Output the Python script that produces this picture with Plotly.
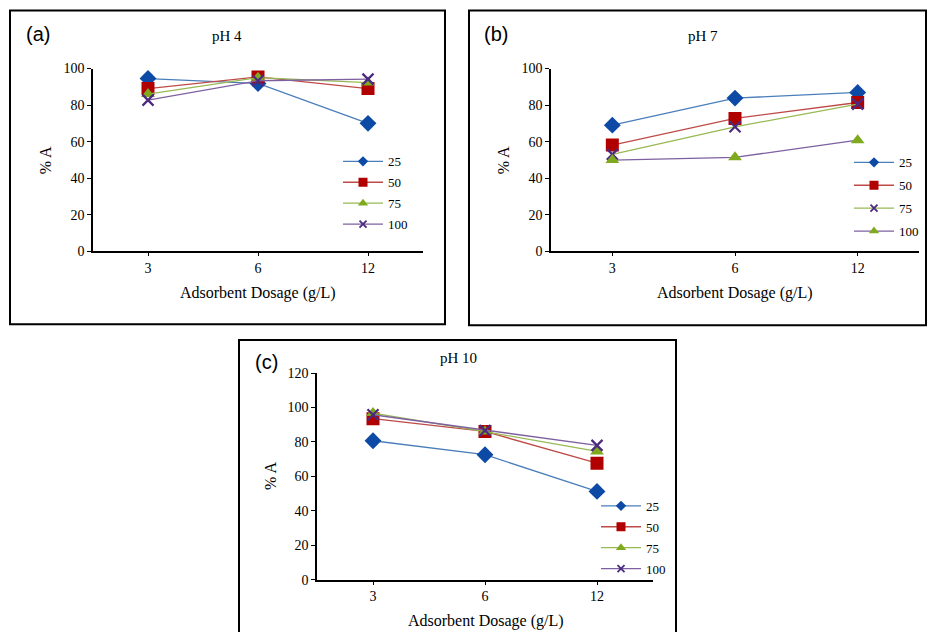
import plotly.graph_objects as go

W, H = 928, 640

dosage = ["3", "6", "12"]
series_names = ["25", "50", "75", "100"]

ph4_25 = [94.5, 91.8, 70.0]
ph4_50 = [89.0, 95.4, 89.0]
ph4_75 = [86.0, 95.0, 92.3]
ph4_100 = [82.7, 93.3, 94.2]

ph7_25 = [69.0, 83.8, 86.9]
ph7_50 = [58.1, 72.7, 81.4]
ph7_75 = [53.0, 68.1, 80.5]
ph7_100 = [49.9, 51.4, 60.8]

ph10_25 = [80.7, 72.6, 51.3]
ph10_50 = [93.5, 86.1, 67.7]
ph10_75 = [96.8, 86.0, 74.5]
ph10_100 = [95.8, 86.7, 78.0]

panel_titles = ["pH 4", "pH 7", "pH 10"]
panel_labels = ["(a)", "(b)", "(c)"]

LBLUE, LRED, LGREEN, LPURPLE = "#4A7EBB", "#BE4B48", "#98B954", "#7D60A0"
MBLUE, MRED, MGREEN, MPURPLE = "#0D4AA6", "#B00000", "#7FAA1E", "#4B2A80"

DIA = dict(symbol="diamond", color=MBLUE)
SQ = dict(symbol="square", color=MRED)
TRI = dict(symbol="triangle-up", color=MGREEN)
XX = dict(symbol="x-thin", color=MPURPLE)

# (line colour, marker style) per series per panel
styles_a = [(LBLUE, DIA), (LRED, SQ), (LGREEN, TRI), (LPURPLE, XX)]
styles_b = [(LBLUE, DIA), (LRED, SQ), (LGREEN, XX), (LPURPLE, TRI)]
styles_c = styles_a

SERIF = "Liberation Serif"

# the photographed page shows page-y as 6.4 + 0.978 * y; place layout so
# the final picture lands on the target pixel positions
Y_OFF, Y_SCALE = 6.4, 0.978

def px(x):
    return x / W

def py(y):
    return 1 - ((y - Y_OFF) / Y_SCALE) / H

fig = go.Figure()

panels = [
    dict(ax="", data=[ph4_25, ph4_50, ph4_75, ph4_100], styles=styles_a, legend="legend"),
    dict(ax="2", data=[ph7_25, ph7_50, ph7_75, ph7_100], styles=styles_b, legend="legend2"),
    dict(ax="3", data=[ph10_25, ph10_50, ph10_75, ph10_100], styles=styles_c, legend="legend3"),
]

big = {"diamond": 13, "square": 13, "triangle-up": 12, "x-thin": 11}
small = {"diamond": 8, "square": 9, "triangle-up": 9, "x-thin": 7}

for p in panels:
    for name, vals, (lc, mk) in zip(series_names, p["data"], p["styles"]):
        sym = mk["symbol"]
        mline = dict(width=2.2, color=mk["color"]) if sym == "x-thin" else dict(width=0)
        fig.add_trace(go.Scatter(
            x=dosage, y=vals, mode="lines+markers", name=name,
            line=dict(color=lc, width=1.3),
            marker=dict(symbol=sym, size=big[sym], color=mk["color"], line=mline),
            xaxis="x" + p["ax"], yaxis="y" + p["ax"], showlegend=False,
        ))
    for i, (name, (lc, mk)) in enumerate(zip(series_names, p["styles"])):
        sym = mk["symbol"]
        mline = dict(width=1.8, color=mk["color"]) if sym == "x-thin" else dict(width=0)
        fig.add_trace(go.Scatter(
            x=[None], y=[None], mode="lines+markers", name=name,
            line=dict(color=lc, width=1.3),
            marker=dict(symbol=sym, size=small[sym], color=mk["color"], line=mline),
            xaxis="x" + p["ax"], yaxis="y" + p["ax"], showlegend=True,
            legend=p["legend"], legendgroup=p["legend"] + name,
        ))

xaxis_common = dict(
    type="category", categoryorder="array", categoryarray=dosage,
    showline=True, linecolor="black", linewidth=1.5, ticks="outside",
    ticklen=3, tickcolor="black", showgrid=False, zeroline=False,
    tickfont=dict(family=SERIF, size=14, color="black"), range=[-0.5, 2.5],
    fixedrange=True,
)
yaxis_common = dict(
    showline=True, linecolor="black", linewidth=1.5, ticks="outside",
    ticklen=4, tickcolor="black", showgrid=False, zeroline=False, dtick=20,
    tickfont=dict(family=SERIF, size=14, color="black"), fixedrange=True,
)

fig.update_layout(
    width=W, height=H, margin=dict(l=0, r=0, t=0, b=0),
    paper_bgcolor="white", plot_bgcolor="white",
    xaxis=dict(xaxis_common, domain=[px(93), px(423)], anchor="y"),
    yaxis=dict(yaxis_common, domain=[py(251), py(68)], range=[0, 100], anchor="x"),
    xaxis2=dict(xaxis_common, domain=[px(551), px(919)], anchor="y2"),
    yaxis2=dict(yaxis_common, domain=[py(251), py(68)], range=[0, 100], anchor="x2"),
    xaxis3=dict(xaxis_common, domain=[px(317), px(653)], anchor="y3"),
    yaxis3=dict(yaxis_common, domain=[py(580), py(373)], range=[0, 120], anchor="x3"),
)

leg_common = dict(
    xanchor="left", yanchor="top", bgcolor="rgba(0,0,0,0)",
    font=dict(family=SERIF, size=13, color="black"), itemwidth=40,
    itemclick=False, itemdoubleclick=False,
)
fig.update_layout(
    legend=dict(leg_common, x=px(338), y=py(146), tracegroupgap=1),
    legend2=dict(leg_common, x=px(849), y=py(147), tracegroupgap=3),
    legend3=dict(leg_common, x=px(596), y=py(491), tracegroupgap=1),
)

# panel frames
FRAME = dict(color="black", width=2)
for (x0, y0, x1, y1) in [(10, 10, 445, 324), (469, 10, 926, 325)]:
    fig.add_shape(type="rect", xref="paper", yref="paper",
                  x0=px(x0), x1=px(x1), y0=py(y0), y1=py(y1),
                  line=FRAME, fillcolor="rgba(0,0,0,0)")
fig.add_shape(type="path", xref="paper", yref="paper", line=FRAME,
              path=f"M {px(239)},0 L {px(239)},{py(340)} "
                   f"L {px(676)},{py(340)} L {px(676)},0")

ann = []
label_pos = [(38, 33), (496, 33), (266, 362)]
title_pos = [(227, 35), (703, 35), (458, 358)]
xt_pos = [(258, 293), (735, 293), (486, 621)]
yt_pos = [(45, 160), (503, 160), (271, 476)]
for lab, (lx, ly), t, (tx, ty), (xx, xy), (yx, yy) in zip(
        panel_labels, label_pos, panel_titles, title_pos, xt_pos, yt_pos):
    ann.append(dict(text=lab, x=px(lx), y=py(ly), showarrow=False,
                    font=dict(family="Liberation Sans", size=20, color="black")))
    ann.append(dict(text=t, x=px(tx), y=py(ty), showarrow=False,
                    font=dict(family=SERIF, size=15, color="black")))
    ann.append(dict(text="Adsorbent Dosage (g/L)", x=px(xx), y=py(xy), showarrow=False,
                    font=dict(family=SERIF, size=16, color="black")))
    ann.append(dict(text="% A", x=px(yx), y=py(yy), showarrow=False, textangle=-90,
                    font=dict(family=SERIF, size=16, color="black")))
for a in ann:
    a.update(xref="paper", yref="paper", xanchor="center", yanchor="middle")
fig.update_layout(annotations=ann)

fig.write_html(
    "out.html",
    config={"displayModeBar": False, "responsive": False},
    post_script=(
        "document.body.style.margin='0';"
        "document.body.style.overflow='hidden';"
        "document.documentElement.style.overflow='hidden';"
    ),
)
